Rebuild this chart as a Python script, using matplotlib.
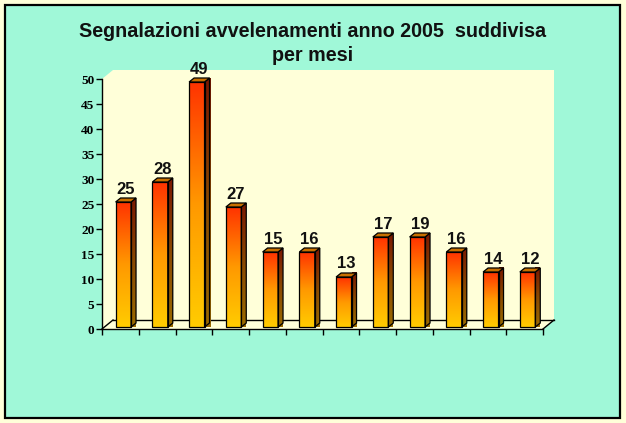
import numpy as np
import matplotlib
matplotlib.use("Agg")
import matplotlib.pyplot as plt
from matplotlib.patches import Polygon, Rectangle
from matplotlib.colors import LinearSegmentedColormap

# ---- data ----
months = ["Gen", "Feb", "Mar", "Apr", "Mag", "Giu", "Lug", "Ago", "Set", "Ott", "Nov", "Dic"]
# value labels printed above the bars
labels = [25, 28, 49, 27, 15, 16, 13, 17, 19, 16, 14, 12]
# bar heights as drawn in the picture (they differ slightly from the printed labels)
bar_heights = [25, 29, 49, 24, 15, 15, 10, 18, 18, 15, 11, 11]
yticks = [0, 5, 10, 15, 20, 25, 30, 35, 40, 45, 50]
title_line1 = "Segnalazioni avvelenamenti anno 2005  suddivisa"
title_line2 = "per mesi"

W, H = 626, 423
fig = plt.figure(figsize=(W / 100, H / 100), dpi=100)
fig.patch.set_facecolor("#FFFFD9")
# mint panel with black frame (background axes)
bg = fig.add_axes([0, 0, 1, 1], zorder=-5)
bg.set_xlim(0, W)
bg.set_ylim(H, 0)
bg.axis("off")
bg.add_patch(Rectangle((5, 5), 615, 413, facecolor="#A0F8D8", edgecolor="black", linewidth=1.6))

left, right, top, bottom = 102, 543, 79, 329
ax = fig.add_axes([left / W, 1 - bottom / H, (right - left) / W, (bottom - top) / H])
ax.set_xlim(0, 12)
ax.set_ylim(0, 50)
ax.patch.set_visible(False)
for s in ["top", "right"]:
    ax.spines[s].set_visible(False)
ax.spines["left"].set_linewidth(1.0)
ax.spines["bottom"].set_linewidth(1.0)
ax.spines["left"].set_zorder(6)
ax.spines["bottom"].set_zorder(6)
ax.set_xticks(np.arange(0, 13))
ax.set_xticklabels([])
ax.set_yticks(yticks)
ax.set_yticklabels([str(v) for v in yticks], fontfamily="Liberation Serif", fontweight="bold", fontsize=9.5)
ax.tick_params(axis="both", direction="out", length=4, width=1.0, pad=1.5, colors="black")

pxu = (right - left) / 12.0  # px per x unit
pyu = (bottom - top) / 50.0  # px per y unit
wdx, wdy = 11 / pxu, 9 / pyu

# back wall + floor
wall = Polygon([(0, 0), (0, 50), (wdx, 50 + wdy), (12 + wdx, 50 + wdy), (12 + wdx, wdy), (12, 0)],
               closed=True, facecolor="#FFFFD9", edgecolor="none", clip_on=False, zorder=0.5)
ax.add_patch(wall)
ax.plot([wdx, 12 + wdx], [wdy, wdy], color="black", lw=1.0, clip_on=False, zorder=1)
ax.plot([0, wdx], [0, wdy], color="black", lw=1.0, clip_on=False, zorder=1)
ax.plot([12, 12 + wdx], [0, wdy], color="black", lw=1.0, clip_on=False, zorder=1)

front_cmap = LinearSegmentedColormap.from_list("f", ["#FFCC00", "#FF9900", "#FF3300"])
side_cmap = LinearSegmentedColormap.from_list("s", ["#9A6A00", "#8A4A00", "#7A1800"])
grad = np.linspace(0, 1, 256).reshape(-1, 1)

bw = 0.42
bdx, bdy = 5 / pxu, 4 / pyu
base = 2 / pyu

for i, (v, lab) in enumerate(zip(bar_heights, labels)):
    cx = i + 0.58
    x0, x1 = cx - bw / 2, cx + bw / 2
    y0, y1 = base, base + v
    # front face
    ax.imshow(grad, extent=[x0, x1, y0, y1], origin="lower", cmap=front_cmap,
              aspect="auto", zorder=3, clip_on=False)
    ax.add_patch(Rectangle((x0, y0), bw, v, facecolor="none", edgecolor="black", lw=0.9, zorder=4, clip_on=False))
    # side face
    side = Polygon([(x1, y0), (x1 + bdx, y0 + bdy), (x1 + bdx, y1 + bdy), (x1, y1)], closed=True,
                   facecolor="none", edgecolor="black", lw=0.9, zorder=4, clip_on=False)
    ax.add_patch(side)
    im2 = ax.imshow(grad, extent=[x1, x1 + bdx, y0, y1 + bdy], origin="lower", cmap=side_cmap,
                    aspect="auto", zorder=3, clip_on=False)
    im2.set_clip_path(side)
    # top face
    topf = Polygon([(x0, y1), (x1, y1), (x1 + bdx, y1 + bdy), (x0 + bdx, y1 + bdy)], closed=True,
                   facecolor="#C87000", edgecolor="black", lw=0.9, zorder=4, clip_on=False)
    ax.add_patch(topf)
    ax.text(cx + bdx / 2, y1 + bdy + 0.9, str(lab), ha="center", va="baseline",
            fontfamily="Liberation Sans", fontweight="bold", fontsize=12, color="#111111",
            zorder=5, clip_on=False)

ax.set_xlim(0, 12)
ax.set_ylim(0, 50)

fig.text(0.5, 1 - 36.7 / H, title_line1, ha="center", va="baseline",
         fontfamily="Liberation Sans", fontweight="bold", fontsize=14.2, color="#111111")
fig.text(0.5, 1 - 61 / H, title_line2, ha="center", va="baseline",
         fontfamily="Liberation Sans", fontweight="bold", fontsize=14.2, color="#111111")

fig.savefig("out.png", dpi=100, facecolor=fig.get_facecolor())
